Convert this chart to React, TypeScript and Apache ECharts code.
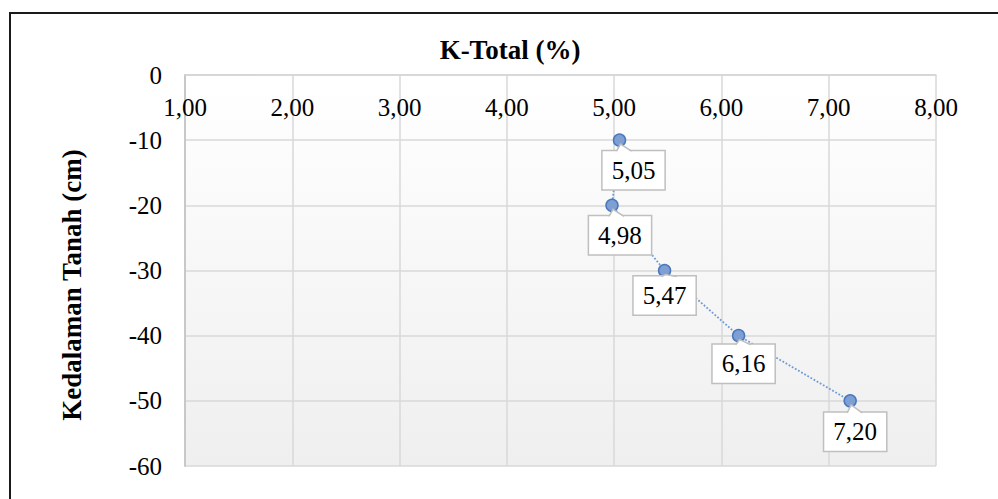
import React, { useEffect, useRef } from "react";
import * as echarts from "echarts";

const depths = [-10, -20, -30, -40, -50];
const kTotal = [5.05, 4.98, 5.47, 6.16, 7.2];
const labelOffsets = [
  [14, 30],
  [8, 30],
  [0, 25],
  [5, 28],
  [5, 31],
];
const chartTitle = "K-Total (%)";
const yTitle = "Kedalaman Tanah (cm)";

const fmt = (v: number) => v.toFixed(2).replace(".", ",");
const FONT = "'Liberation Serif', 'Times New Roman', serif";
const BOX_H = 38;

export default function App() {
  const ref = useRef<HTMLDivElement>(null);
  useEffect(() => {
    if (!ref.current) return;
    const chart = echarts.init(ref.current, null, { renderer: "svg" });
    const data = kTotal.map((k, i) => ({
      value: [k, depths[i]],
      label: { offset: labelOffsets[i] },
    }));
    const baseGraphic: any[] = [
      {
        type: "rect",
        shape: { x: 10, y: 13, width: 1200, height: 700 },
        style: { fill: "none", stroke: "#1a1a1a", lineWidth: 2 },
        silent: true,
        z: 100,
      },
      {
        type: "text",
        x: 510,
        y: 50,
        style: {
          text: chartTitle,
          font: `bold 27px ${FONT}`,
          fill: "#000",
          align: "center",
          verticalAlign: "middle",
        },
      },
      {
        type: "text",
        x: 72,
        y: 285,
        rotation: Math.PI / 2,
        style: {
          text: yTitle,
          font: `bold 27px ${FONT}`,
          fill: "#000",
          align: "center",
          verticalAlign: "middle",
        },
      },
    ];
    chart.setOption({
      animation: false,
      backgroundColor: "#ffffff",
      textStyle: { fontFamily: FONT },
      grid: {
        left: 185,
        top: 75,
        right: 62,
        bottom: 33,
        show: true,
        borderWidth: 0,
        backgroundColor: new echarts.graphic.LinearGradient(0, 0, 0, 1, [
          { offset: 0, color: "#ffffff" },
          { offset: 1, color: "#efefef" },
        ]),
      },
      xAxis: {
        type: "value",
        position: "top",
        min: 1,
        max: 8,
        interval: 1,
        axisLine: { show: true, lineStyle: { color: "#d4d4d4", width: 1.5 } },
        axisTick: { show: false },
        axisLabel: {
          inside: true,
          margin: 20,
          color: "#000",
          fontFamily: FONT,
          fontSize: 25,
          formatter: (v: number) => fmt(v),
        },
        splitLine: { show: true, lineStyle: { color: "#d9d9d9", width: 1.5 } },
      },
      yAxis: {
        type: "value",
        min: -60,
        max: 0,
        interval: 10,
        axisLine: { show: true, lineStyle: { color: "#c8c8c8", width: 2 } },
        axisTick: { show: false },
        axisLabel: {
          margin: 23,
          color: "#000",
          fontFamily: FONT,
          fontSize: 25,
        },
        splitLine: { show: true, lineStyle: { color: "#d9d9d9", width: 1.5 } },
      },
      graphic: baseGraphic,
      series: [
        {
          type: "line",
          data,
          symbol: "circle",
          symbolSize: 12,
          itemStyle: {
            color: "#7d9fd3",
            borderColor: "#4a78bb",
            borderWidth: 1.5,
          },
          lineStyle: { color: "#6f9ad6", width: 1.8, type: "dotted" },
          label: {
            show: true,
            position: "inside",
            align: "center",
            verticalAlign: "middle",
            formatter: (p: any) => fmt(p.value[0]),
            color: "#000",
            fontFamily: FONT,
            fontSize: 25,
            backgroundColor: "#ffffff",
            borderColor: "#bfbfbf",
            borderWidth: 1.5,
            padding: [7, 9, 6, 9],
          },
          z: 5,
        },
      ],
    });
    // callout pointers, positioned via the chart's own scales
    const pointers: any[] = [];
    kTotal.forEach((k, i) => {
      const p = chart.convertToPixel({ gridIndex: 0 }, [k, depths[i]]) as number[];
      const top = p[1] + labelOffsets[i][1] - BOX_H / 2;
      const a: number[] = [p[0] - 3, top + 1];
      const b: number[] = [p[0] + 1, p[1] + 4];
      const c: number[] = [p[0] + 12, top + 1];
      pointers.push({
        type: "polygon",
        shape: { points: [a, b, c] },
        style: { fill: "#ffffff", stroke: "none" },
        z: 8,
        silent: true,
      });
      pointers.push({
        type: "polyline",
        shape: { points: [[a[0], top], b, [c[0], top]] },
        style: { stroke: "#bfbfbf", lineWidth: 1.5, fill: "none" },
        z: 8,
        silent: true,
      });
    });
    chart.setOption({ graphic: baseGraphic.concat(pointers) });
    return () => chart.dispose();
  }, []);
  return (
    <div
      ref={ref}
      style={{ position: "fixed", left: 0, top: 0, width: 998, height: 499 }}
    />
  );
}
